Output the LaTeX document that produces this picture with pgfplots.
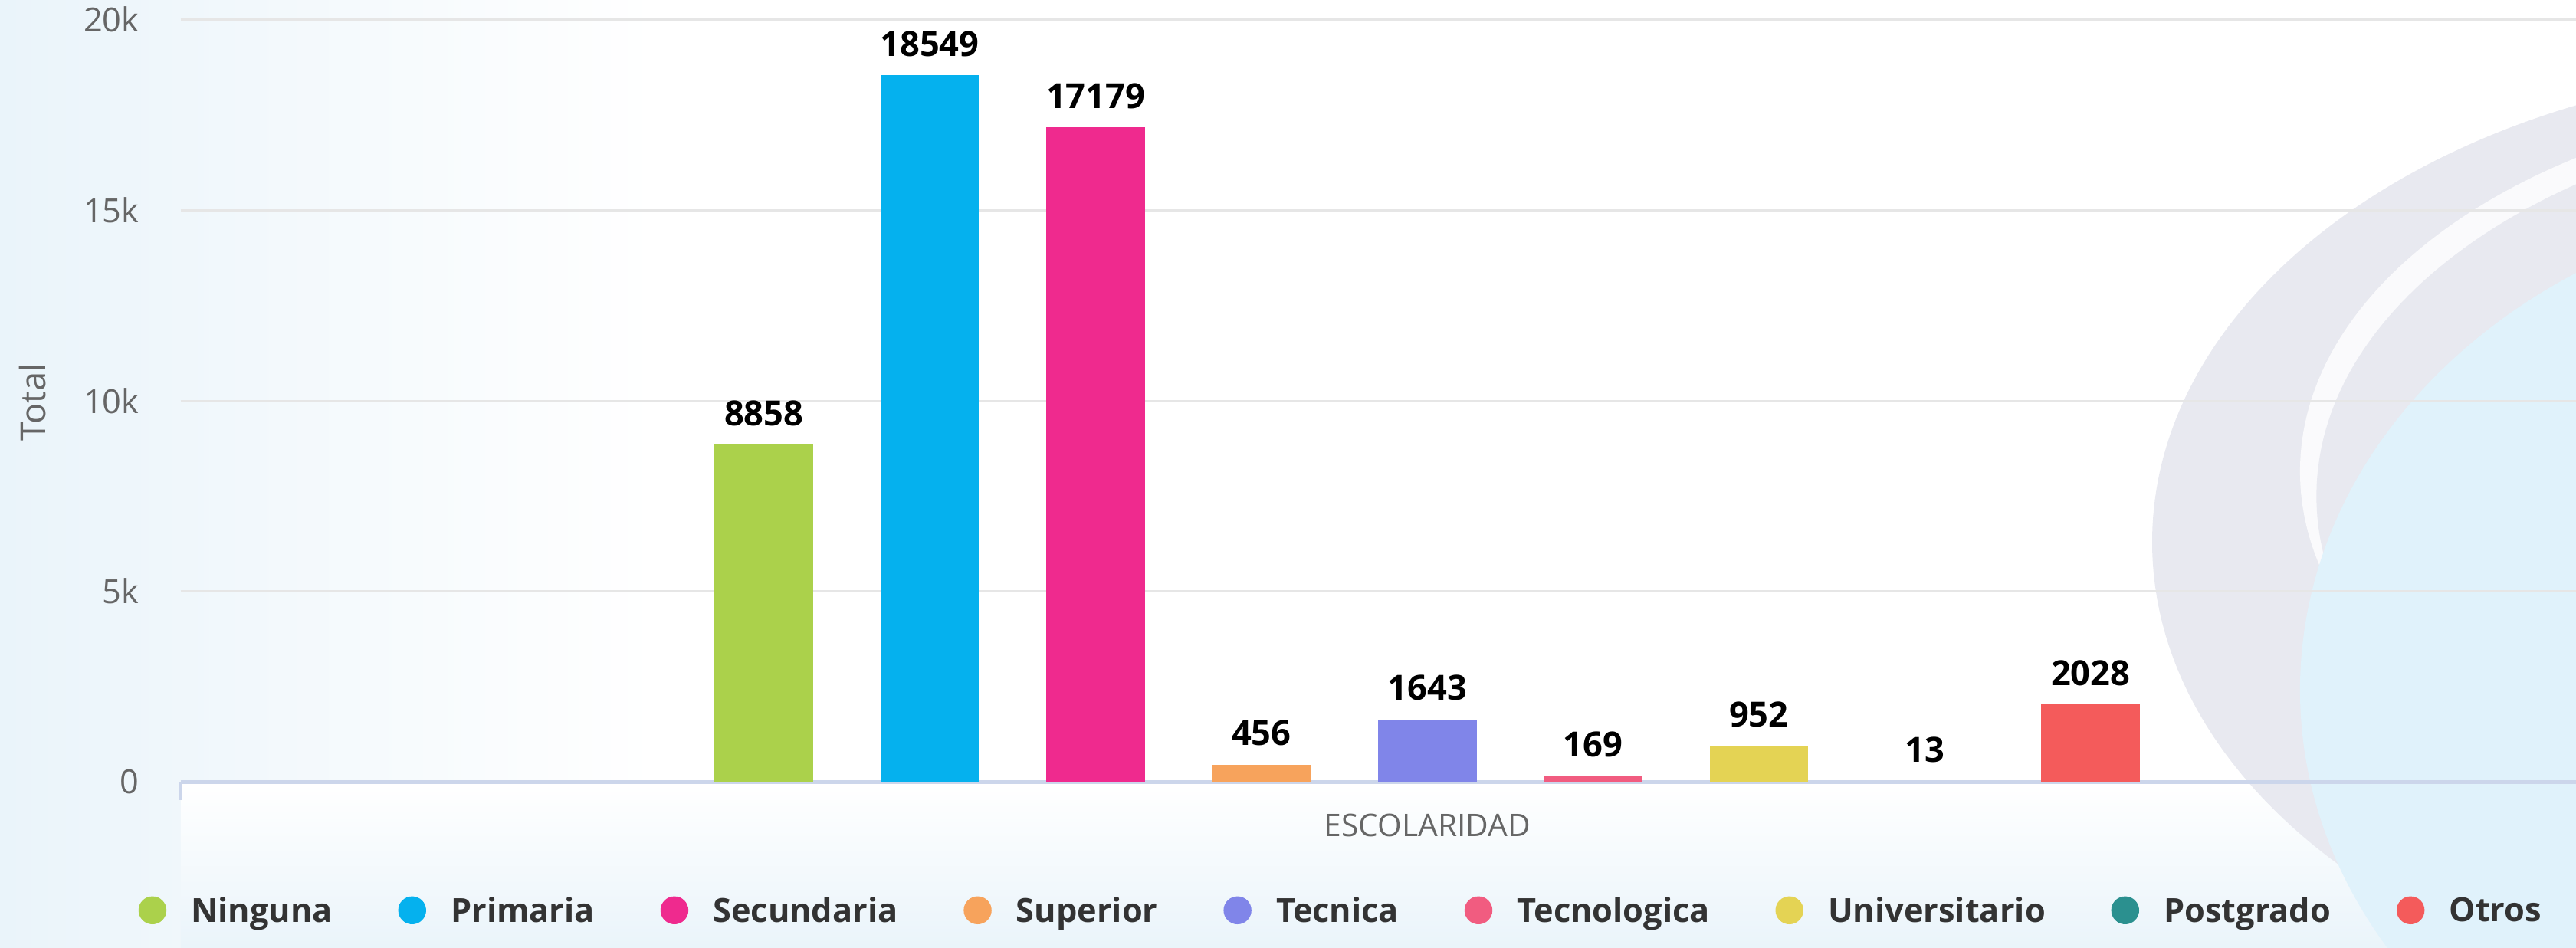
\documentclass[border=0pt]{standalone}
\usepackage{fontspec}
\setmainfont{Open Sans}
\usepackage{pgfplots}
\pgfplotsset{compat=1.18}
\definecolor{cNinguna}{HTML}{ABD14B}
\definecolor{cPrimaria}{HTML}{05B1EE}
\definecolor{cSecundaria}{HTML}{EF2A8E}
\definecolor{cSuperior}{HTML}{F7A35C}
\definecolor{cTecnica}{HTML}{8085E9}
\definecolor{cTecnologica}{HTML}{F15C80}
\definecolor{cUniversitario}{HTML}{E4D354}
\definecolor{cPostgrado}{HTML}{2B908F}
\definecolor{cOtros}{HTML}{F45B5B}
\definecolor{gridgray}{HTML}{E6E6E6}
\definecolor{axisline}{HTML}{CCD6EB}
\definecolor{ticktext}{HTML}{666666}
\definecolor{legtext}{HTML}{333333}
\definecolor{bgblue}{HTML}{EAF4FA}
\definecolor{decogray}{HTML}{E8E9F0}
\definecolor{decoblue}{HTML}{E0F2FB}
\begin{document}
\begin{tikzpicture}
\useasboundingbox (0,0) rectangle (31.36,11.54);
\fill[white] (0,0) rectangle (31.36,11.54);
\shade[left color=bgblue, right color=white] (0,0) rectangle (8,11.54);
\shade[bottom color=bgblue, top color=white] (2.2,0) rectangle (31.36,2.0);
\begin{scope}
\clip (0,0) rectangle (31.36,11.54);
\fill[decogray] (34.8,4.94) ellipse [x radius=8.6, y radius=5.8];
\fill[white, opacity=0.8] (35.6,5.8) ellipse [x radius=7.6, y radius=4.6];
\fill[decogray] (35.9,5.5) ellipse [x radius=7.7, y radius=4.7];
\fill[decoblue] (35.2,3.14) ellipse [x radius=7.2, y radius=6.0];
\end{scope}
\begin{axis}[
  at={(2.2cm,2.02cm)}, anchor=south west,
  scale only axis, width=29.16cm, height=9.28cm,
  xmin=110, xmax=1568, ymin=0, ymax=20000,
  ybar, bar width=60, bar shift=0pt,
  axis line style={draw=none},
  tick pos=left, major tick length=0pt,
  ytick={0,5000,10000,15000,20000},
  yticklabels={0,5k,10k,15k,20k},
  ymajorgrids, major grid style={color=gridgray, line width=0.7pt},
  extra y ticks={0}, extra y tick labels={},
  extra y tick style={major grid style={color=axisline, line width=1.3pt}},
  xtick={868.8}, xticklabels={ESCOLARIDAD},
  extra x ticks={110}, extra x tick labels={},
  extra x tick style={major tick length=0.22cm, tick align=outside, tick style={color=axisline, line width=1pt}},
  yticklabel style={font=\fontsize{11.5}{13}\selectfont, text=ticktext, inner sep=0pt, xshift=-0.5cm},
  xticklabel style={font=\fontsize{10.8}{12}\selectfont, text=ticktext, inner sep=0pt, yshift=-0.38cm},
  ylabel={Total},
  ylabel style={at={(axis description cs:-0.0617,0.498)}, anchor=center, font=\fontsize{12}{14}\selectfont, text=ticktext},
  nodes near coords,
  every node near coord/.append style={font=\bfseries\fontsize{12}{14}\selectfont, text=black, inner sep=0pt, yshift=0.22cm},
  /pgf/number format/1000 sep={},
  /pgf/number format/assume math mode=true,
  legend image code/.code={\fill[#1] (0.17cm,0.02cm) circle (0.17cm);},
  legend cell align=left,
  legend columns=9,
  legend style={at={(axis description cs:0.484,-0.170)}, anchor=center, draw=none, fill=none,
    font=\bfseries\fontsize{11.5}{13}\selectfont,
    nodes={inner sep=0pt, text=legtext},
    /tikz/every even column/.append style={column sep=0.8cm},
    /tikz/every odd column/.append style={column sep=0.3cm}},
]
\addplot[fill=cNinguna, draw=none] coordinates {(465,8858)};
\addlegendentry{Ninguna}
\addplot[fill=cPrimaria, draw=none] coordinates {(565.9,18549)};
\addlegendentry{Primaria}
\addplot[fill=cSecundaria, draw=none] coordinates {(666.9,17179)};
\addlegendentry{Secundaria}
\addplot[fill=cSuperior, draw=none] coordinates {(767.8,456)};
\addlegendentry{Superior}
\addplot[fill=cTecnica, draw=none] coordinates {(868.8,1643)};
\addlegendentry{Tecnica}
\addplot[fill=cTecnologica, draw=none] coordinates {(969.7,169)};
\addlegendentry{Tecnologica}
\addplot[fill=cUniversitario, draw=none] coordinates {(1070.6,952)};
\addlegendentry{Universitario}
\addplot[fill=cPostgrado, draw=none] coordinates {(1171.6,13)};
\addlegendentry{Postgrado}
\addplot[fill=cOtros, draw=none] coordinates {(1272.5,2028)};
\addlegendentry{Otros}
\end{axis}
\end{tikzpicture}
\end{document}
